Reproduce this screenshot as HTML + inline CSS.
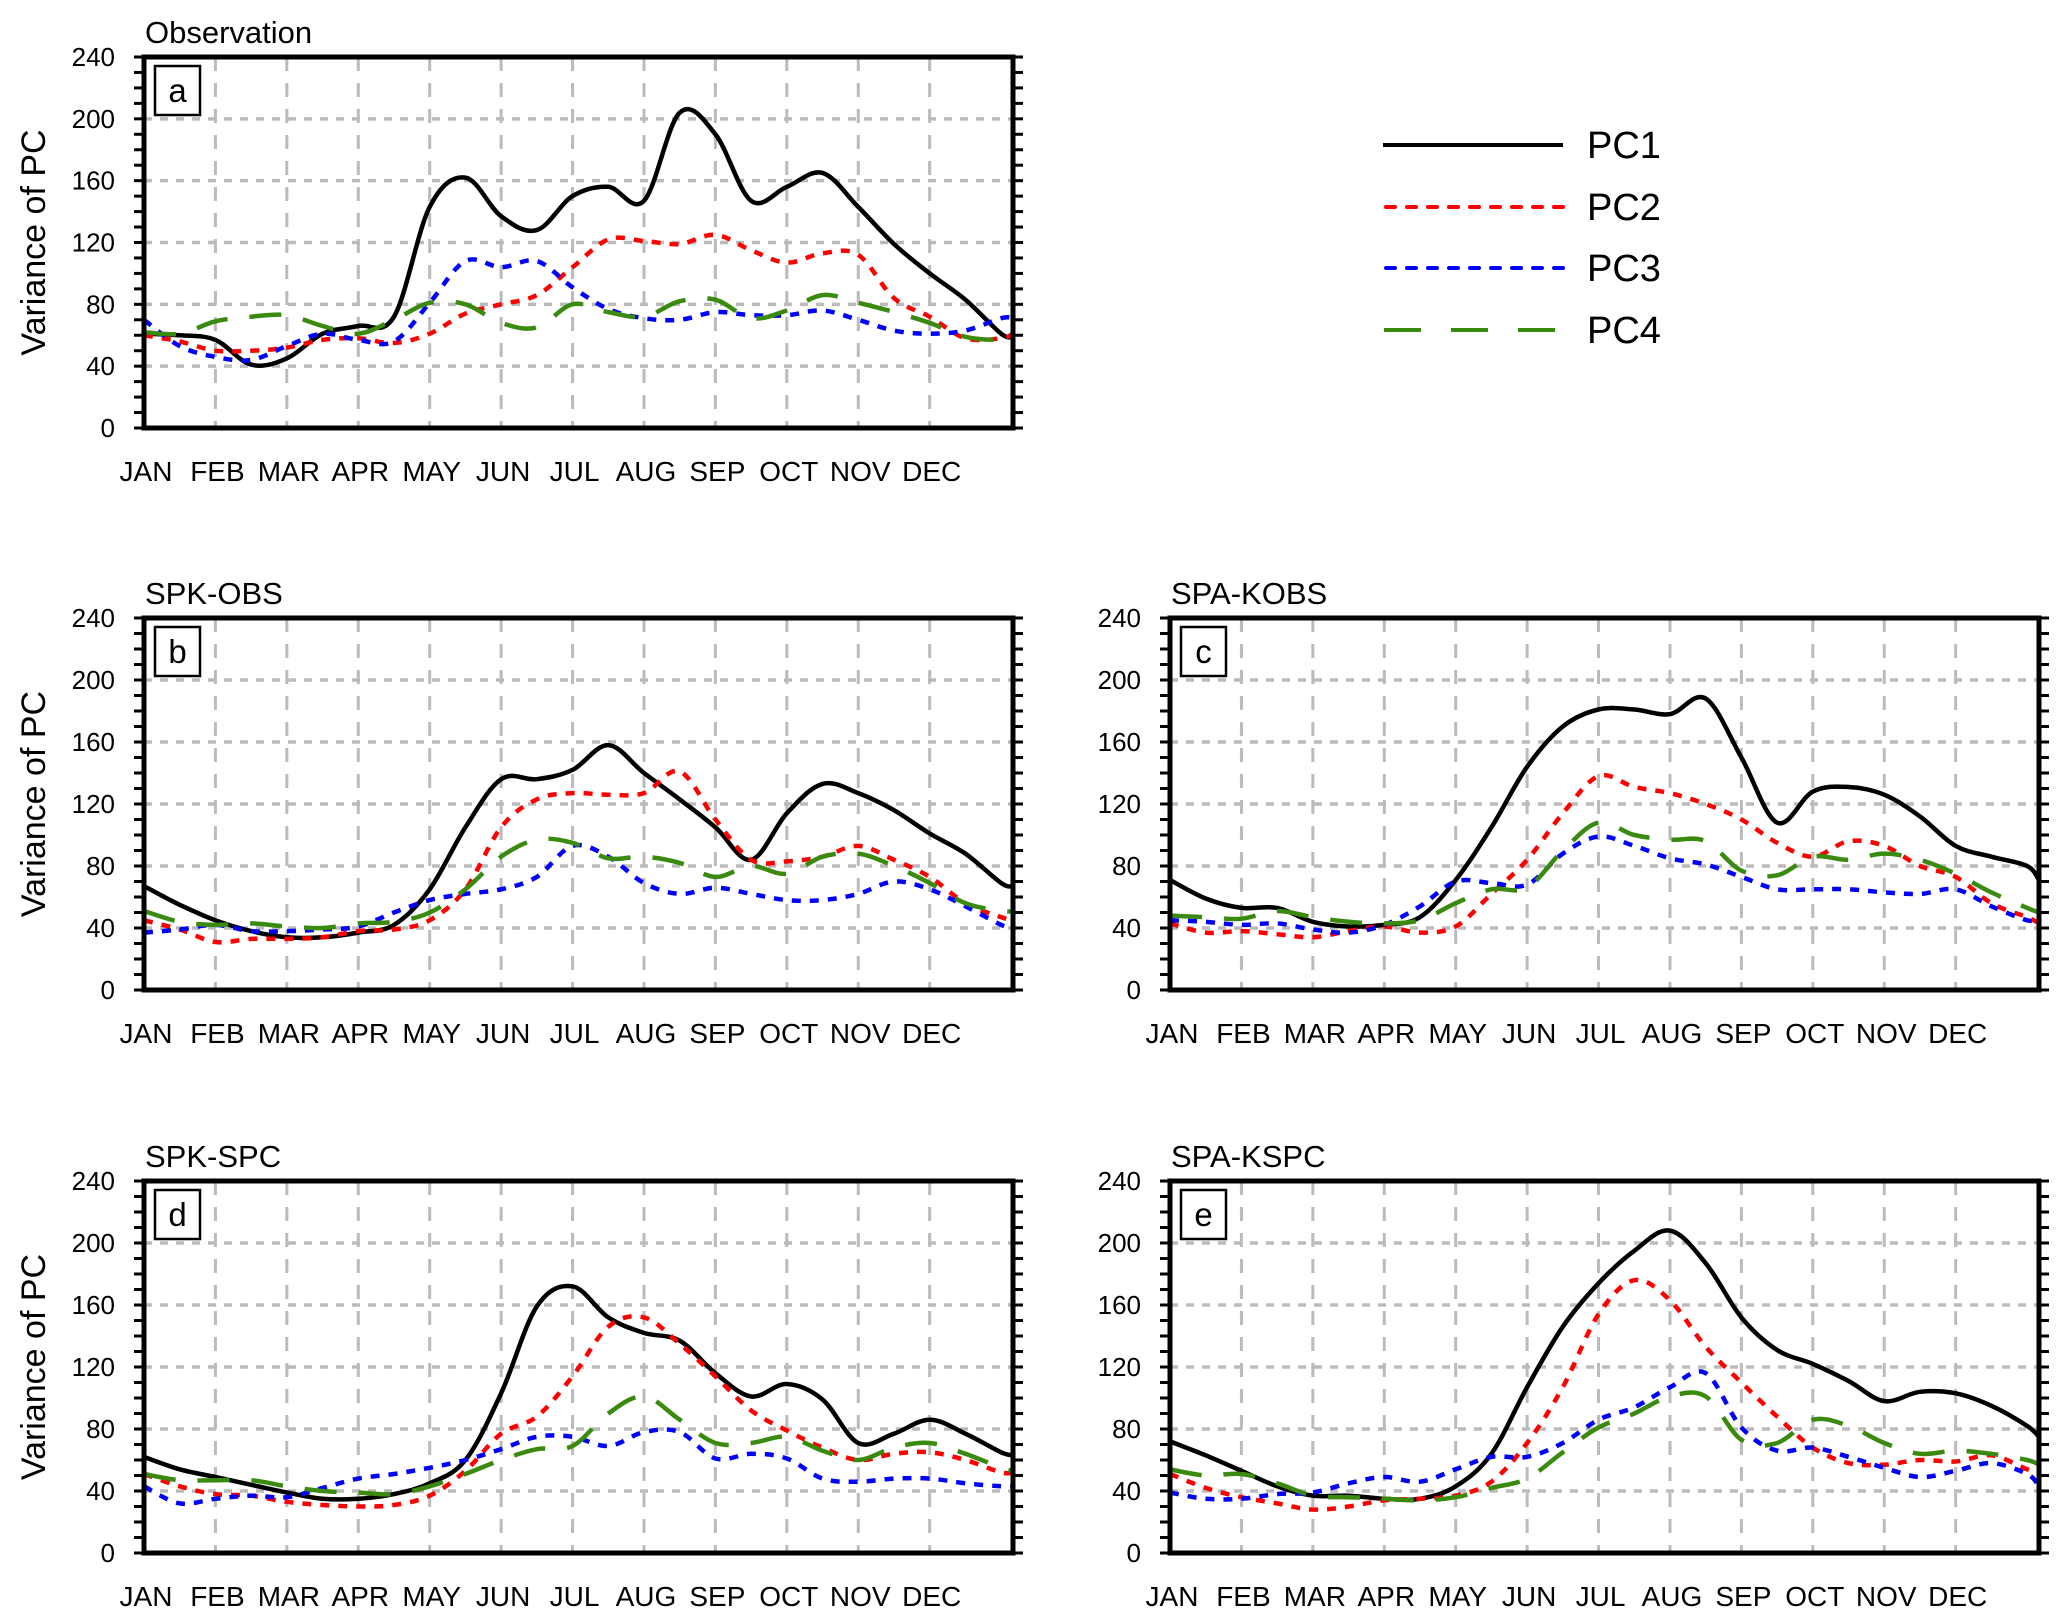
<!DOCTYPE html>
<html><head><meta charset="utf-8"><title>Variance of PC</title>
<style>
html,body{margin:0;padding:0;background:#fff;}
svg{display:block;font-family:"Liberation Sans",sans-serif;}
</style></head>
<body>
<svg id="fig" width="2067" height="1623" viewBox="0 0 2067 1623" xmlns="http://www.w3.org/2000/svg">
<rect width="2067" height="1623" fill="#fff"/>
<g>
  <line x1="1383" y1="145" x2="1563" y2="145" stroke="#000" stroke-width="4"/>
  <text x="1587" y="158" font-size="38">PC1</text>
  <line x1="1386" y1="207" x2="1563" y2="207" stroke="#f00" stroke-width="4" stroke-dasharray="9,12" stroke-linecap="round"/>
  <text x="1587" y="220" font-size="38">PC2</text>
  <line x1="1386" y1="268" x2="1563" y2="268" stroke="#00f" stroke-width="4" stroke-dasharray="9,12" stroke-linecap="round"/>
  <text x="1587" y="281" font-size="38">PC3</text>
  <line x1="1384" y1="330" x2="1563" y2="330" stroke="#3a8a10" stroke-width="4" stroke-dasharray="37,30"/>
  <text x="1587" y="343" font-size="38">PC4</text>
</g>
</svg>
<script>
const days = [0,15,30,45,60,75,90,105,120,135,150,165,180,195,210,225,240,255,270,285,300,315,330,345,360,365];
const months = ["JAN","FEB","MAR","APR","MAY","JUN","JUL","AUG","SEP","OCT","NOV","DEC"];
const yTicks = [0,40,80,120,160,200,240];
const panelTitles = ["Observation","SPK-OBS","SPA-KOBS","SPK-SPC","SPA-KSPC"];
const panelLetters = ["a","b","c","d","e"];

const a_pc1 = [61,60,57,41,45,61,66,72,143,162,137,128,150,156,147,204,190,147,156,165,143,119,100,83,61,59];
const a_pc2 = [60,56,50,50,52,57,58,55,61,74,80,86,104,122,121,119,125,115,107,113,112,84,72,58,58,61];
const a_pc3 = [70,53,46,44,53,61,57,56,81,108,104,108,91,77,71,70,75,73,73,76,70,63,61,63,71,71];
const a_pc4 = [62,61,69,72,73,66,61,70,81,80,68,65,80,75,72,82,83,71,76,86,81,75,68,59,57,59];

const b_pc1 = [67,55,45,38,34,34,37,42,65,105,136,136,142,158,140,123,105,84,114,133,127,116,101,88,69,67];
const b_pc2 = [45,39,31,33,33,34,38,39,45,65,105,123,127,126,127,141,110,84,83,86,93,84,73,56,47,45];
const b_pc3 = [37,39,42,38,38,39,41,50,58,62,65,73,93,86,69,62,66,62,58,58,62,70,65,54,42,39];
const b_pc4 = [51,44,42,43,41,40,43,44,50,65,86,97,95,85,86,82,73,80,75,86,88,80,69,56,51,51];

const c_pc1 = [71,59,53,53,44,41,42,47,71,105,144,170,181,181,178,188,150,108,128,131,126,112,93,86,80,71];
const c_pc2 = [43,37,38,36,34,38,41,37,41,62,84,114,138,131,127,120,110,95,86,96,93,80,73,56,47,43];
const c_pc3 = [45,44,42,43,39,37,42,54,70,69,68,88,99,93,85,81,73,65,65,65,63,62,65,54,45,46];
const c_pc4 = [48,47,46,51,47,44,43,45,56,65,66,90,108,100,97,96,77,74,86,84,88,84,75,63,53,50];

const d_pc1 = [62,54,49,44,39,35,35,38,45,60,103,159,172,152,142,137,116,101,109,99,71,77,86,77,65,63];
const d_pc2 = [51,43,38,37,33,31,30,31,37,53,77,88,114,146,152,135,114,92,79,68,60,64,65,60,52,52];
const d_pc3 = [43,32,35,37,36,42,48,51,55,60,67,75,75,69,78,78,61,64,61,48,46,48,48,45,43,43];
const d_pc4 = [51,47,47,47,43,40,39,38,43,51,60,67,69,90,101,86,71,71,75,66,60,68,71,64,55,53];

const e_pc1 = [72,63,53,43,37,37,35,35,43,64,107,146,174,195,208,187,152,131,122,111,98,104,103,95,82,75];
const e_pc2 = [51,42,36,32,28,30,34,35,37,46,71,107,154,176,163,133,110,88,68,58,57,60,59,63,54,52];
const e_pc3 = [39,35,35,38,39,45,49,46,54,62,62,71,86,94,107,116,81,66,68,62,55,49,53,58,51,43];
const e_pc4 = [54,50,51,45,37,36,35,34,36,42,48,65,81,90,101,101,73,71,86,82,71,64,66,64,60,57];

const panelSeries = [
  [a_pc1,a_pc2,a_pc3,a_pc4],
  [b_pc1,b_pc2,b_pc3,b_pc4],
  [c_pc1,c_pc2,c_pc3,c_pc4],
  [d_pc1,d_pc2,d_pc3,d_pc4],
  [e_pc1,e_pc2,e_pc3,e_pc4]
];

const NS = "http://www.w3.org/2000/svg";
const svg = document.getElementById("fig");
const boxes = [
  {L:144,R:1013,T:57,B:428,ylab:true},
  {L:144,R:1013,T:618,B:990,ylab:true},
  {L:1170,R:2039,T:618,B:990,ylab:false},
  {L:144,R:1013,T:1181,B:1553,ylab:true},
  {L:1170,R:2039,T:1181,B:1553,ylab:false}
];
const styles = [
  {c:"#000",w:4.5,da:null,n:"pc1"},
  {c:"#f00",w:4.5,da:"9,9",n:"pc2"},
  {c:"#00f",w:4.5,da:"9,9",n:"pc3"},
  {c:"#3a8a10",w:4.5,da:"32,22",n:"pc4"}
];
function mk(tag, attrs, parent){
  const el = document.createElementNS(NS, tag);
  for (const k in attrs) el.setAttribute(k, attrs[k]);
  (parent||svg).appendChild(el);
  return el;
}
function smoothPath(pts){
  let d = "M"+pts[0][0].toFixed(1)+","+pts[0][1].toFixed(1);
  for (let i=0;i<pts.length-1;i++){
    const p0 = pts[Math.max(0,i-1)], p1 = pts[i], p2 = pts[i+1], p3 = pts[Math.min(pts.length-1,i+2)];
    const t = 0.17;
    const c1x = p1[0]+(p2[0]-p0[0])*t, c1y = p1[1]+(p2[1]-p0[1])*t;
    const c2x = p2[0]-(p3[0]-p1[0])*t, c2y = p2[1]-(p3[1]-p1[1])*t;
    d += " C"+c1x.toFixed(1)+","+c1y.toFixed(1)+" "+c2x.toFixed(1)+","+c2y.toFixed(1)+" "+p2[0].toFixed(1)+","+p2[1].toFixed(1);
  }
  return d;
}
boxes.forEach((bx, pi) => {
  const g = mk("g", {});
  
  
  const xs = d => bx.L + d/365*(bx.R-bx.L);
  const ys = v => bx.B - v/240*(bx.B-bx.T);
  for (let m=1;m<12;m++){
    const gl = mk("line", {x1:xs(m*30),x2:xs(m*30),y1:bx.T,y2:bx.B,stroke:"#bbb","stroke-width":3,"stroke-dasharray":"14,12"}, g);
    
    
  }
  yTicks.forEach(v => {
    if (v>0 && v<240){
      const gl = mk("line", {x1:bx.L,x2:bx.R,y1:ys(v),y2:ys(v),stroke:"#bbb","stroke-width":3.5,"stroke-dasharray":"8,8"}, g);
      
      
    }
  });
  panelSeries[pi].forEach((vals, si) => {
    const st = styles[si];
    const pts = days.map((d,i) => [xs(d), ys(vals[i])]);
    const attrs = {d:smoothPath(pts), fill:"none", stroke:st.c, "stroke-width":st.w, "stroke-linejoin":"round"};
    if (st.da) attrs["stroke-dasharray"] = st.da;
    const p = mk("path", attrs, g);
    
    
  });
  for (let v=0; v<=240; v+=10){
    const tl = mk("line", {x1:bx.L-10,x2:bx.L,y1:ys(v),y2:ys(v),stroke:"#000","stroke-width":3}, g);
    
    
    const tr = mk("line", {x1:bx.R,x2:bx.R+10,y1:ys(v),y2:ys(v),stroke:"#000","stroke-width":3}, g);
    
    
  }
  const fr = mk("rect", {x:bx.L,y:bx.T,width:bx.R-bx.L,height:bx.B-bx.T,fill:"none",stroke:"#000","stroke-width":5}, g);
  
  
  yTicks.forEach(v => {
    const t = mk("text", {x:bx.L-29,y:ys(v)+9,"font-size":26,"text-anchor":"end"}, g);
    t.textContent = v;
    
    
  });
  months.forEach((m,i) => {
    const t = mk("text", {x:xs(i*30)+2,y:bx.B+53,"font-size":28,"text-anchor":"middle"}, g);
    t.textContent = m;
    
    
  });
  const tt = mk("text", {x:bx.L+1,y:bx.T-14,"font-size":31}, g);
  tt.textContent = panelTitles[pi];
  
  
  const lb = mk("rect", {x:bx.L+11,y:bx.T+9,width:45,height:49,fill:"#fff",stroke:"#000","stroke-width":2.5}, g);
  
  
  const lt = mk("text", {x:bx.L+33.5,y:bx.T+45,"font-size":33,"text-anchor":"middle"}, g);
  lt.textContent = panelLetters[pi];
  
  
  if (bx.ylab){
    const cy = (bx.T+bx.B)/2;
    const yt = mk("text", {x:0,y:0,"font-size":34,"text-anchor":"middle",transform:"translate(45,"+cy+") rotate(-90)"}, g);
    yt.textContent = "Variance of PC";
    
    
  }
});
</script>
</body></html>
